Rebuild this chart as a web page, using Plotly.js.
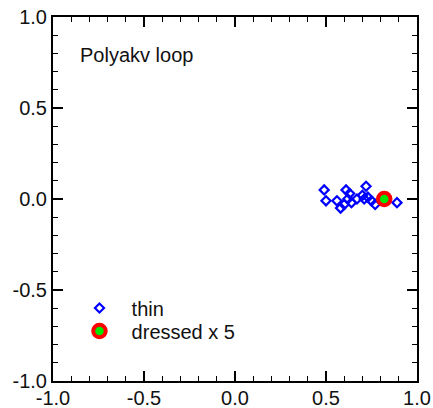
<!DOCTYPE html>
<html>
<head>
<meta charset="utf-8">
<script src="https://cdn.plot.ly/plotly-3.0.1.min.js"></script>
<style>html,body{margin:0;padding:0;background:#fff;}#chart{width:433px;height:408px;}</style>
</head>
<body>
<div id="chart"></div>
<script>
// Thin Polyakov loop values (Re, Im)
const thinRe = [0.49, 0.50, 0.56, 0.58, 0.60, 0.61, 0.62, 0.63, 0.64, 0.67, 0.70, 0.71, 0.72, 0.73, 0.75, 0.77, 0.89];
const thinIm = [0.05, -0.01, -0.01, -0.05, -0.03, 0.05, 0.00, 0.03, -0.02, 0.00, 0.02, 0.00, 0.07, 0.01, -0.01, -0.03, -0.02];
// Dressed (x 5) Polyakov loop
const dressedRe = [0.82];
const dressedIm = [0.00];
const seriesNames = ['thin', 'dressed x 5'];
const tickVals = [-1.0, -0.5, 0.0, 0.5, 1.0];
const tickText = ['-1.0', '-0.5', '0.0', '0.5', '1.0'];

const fam = 'Liberation Sans, Arial, sans-serif';
const font = {family: fam, size: 20, color: '#111'};
const pad = '\u00A0\u00A0';

const traces = [
  {x: thinRe, y: thinIm, name: pad + seriesNames[0], type: 'scatter', mode: 'markers', legend: 'legend',
   marker: {symbol: 'diamond-open', size: 7, color: '#0000ff', line: {width: 2.2, color: '#0000ff'}}},
  {x: dressedRe, y: dressedIm, name: pad + seriesNames[1], type: 'scatter', mode: 'markers', legend: 'legend2',
   marker: {symbol: 'circle', size: 12.5, color: '#00e600', line: {width: 4, color: '#ff0000'}}}
];

const axisBase = {
  range: [-1, 1], tickvals: tickVals, ticktext: tickText,
  ticks: 'inside', ticklen: 10, tickwidth: 1.5, tickcolor: '#000',
  showline: true, linecolor: '#000', linewidth: 2, mirror: 'allticks',
  showgrid: false, zeroline: false, fixedrange: true,
  minor: {dtick: 0.1, ticks: 'inside', ticklen: 5, tickwidth: 1.2, tickcolor: '#000', showgrid: false},
  tickfont: font
};

const legendBase = {xanchor: 'left', yanchor: 'middle', bgcolor: 'rgba(0,0,0,0)',
                    font: font, itemwidth: 32};

const layout = {
  width: 433, height: 408,
  margin: {l: 53, r: 16, t: 17, b: 27},
  paper_bgcolor: '#fff', plot_bgcolor: '#fff',
  font: font,
  showlegend: true,
  legend: Object.assign({x: 0.07, y: 0.2005}, legendBase),
  legend2: Object.assign({x: 0.07, y: 0.1374}, legendBase),
  xaxis: Object.assign({}, axisBase, {ticklabelstandoff: -2}),
  yaxis: Object.assign({}, axisBase, {ticklabelstandoff: 0}),
  annotations: [{x: -0.86, y: 0.79, xref: 'x', yref: 'y', xanchor: 'left', yanchor: 'middle',
                 text: 'Polyakv loop', showarrow: false, font: font}]
};

Plotly.newPlot('chart', traces, layout, {displayModeBar: false, staticPlot: true});
</script>
</body>
</html>
